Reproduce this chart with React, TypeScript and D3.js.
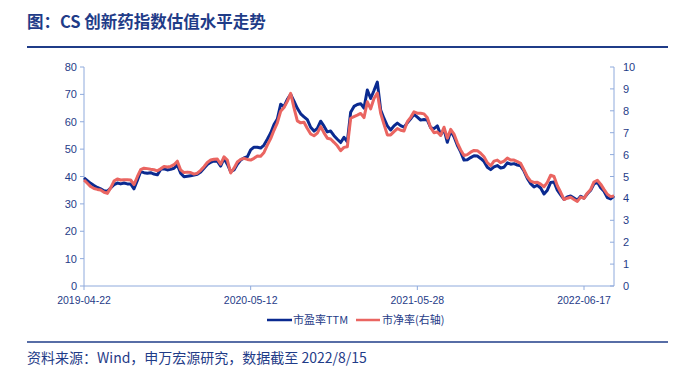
import React from "react";
import * as d3 from "d3";

const title = "图：CS 创新药指数估值水平走势";
const source = "资料来源：Wind，申万宏源研究，数据截至 2022/8/15";
const seriesNames = ["市盈率TTM", "市净率(右轴)"];

const xTickLabels = ["2019-04-22", "2020-05-12", "2021-05-28", "2022-06-17"];
const xTickIndex = [0, 50, 100, 150];
const leftTicks = [0, 10, 20, 30, 40, 50, 60, 70, 80];
const rightTicks = [0, 1, 2, 3, 4, 5, 6, 7, 8, 9, 10];

const pe = [
  39.5, 38.5, 37.5, 36.7, 36.0, 35.5, 34.8, 34.6, 35.8, 37.0,
  37.6, 37.3, 37.6, 37.3, 37.3, 35.5, 38.6, 41.8, 41.4, 41.2,
  41.4, 40.9, 40.6, 42.6, 42.8, 42.4, 42.6, 43.0, 44.2, 41.2,
  39.9, 40.1, 40.3, 40.5, 40.8, 41.6, 43.0, 44.4, 45.2, 45.7,
  45.6, 43.8, 46.6, 44.5, 41.8, 42.4, 44.5, 46.0, 46.8, 47.2,
  49.7, 50.7, 50.7,
  50.4, 51.5, 53.6, 55.9, 59.0, 61.0, 66.4, 65.5, 68.2, 70.0,
  67.5, 64.9, 62.9, 61.8, 60.8, 58.0, 56.6, 57.6, 60.2, 58.4,
  56.3, 56.6, 54.9, 53.6, 52.4, 54.3, 52.7, 63.5, 65.6, 66.3,
  66.6, 65.0, 71.6, 68.5, 71.4, 74.5, 64.3, 61.2, 58.5, 57.0,
  58.5, 59.5, 58.6, 58.0, 59.6, 61.1, 62.7, 61.7, 60.6, 60.8,
  60.6, 57.8, 57.5,
  58.5, 55.2, 57.3, 52.5, 56.6, 54.5, 51.4, 49.0, 46.0, 46.1,
  46.9, 47.6, 47.5, 46.6, 45.5, 43.4, 42.5, 43.5, 44.0, 43.1,
  43.4, 45.0, 44.5, 44.7, 44.2, 43.9, 42.0, 39.3, 37.4, 36.2,
  36.8, 35.8, 33.6, 35.0, 37.8, 38.0, 35.0, 33.3, 31.6, 32.5,
  32.9, 32.1, 31.3, 32.8, 32.1, 33.7, 35.0, 37.3, 38.0, 35.9,
  34.6, 32.3, 31.8, 32.9,
];

const pb = [
  4.84, 4.69, 4.54, 4.45, 4.41, 4.38, 4.28, 4.23, 4.48, 4.79,
  4.89, 4.84, 4.85, 4.85, 4.84, 4.63, 4.99, 5.31, 5.38, 5.36,
  5.33, 5.31, 5.26, 5.35, 5.46, 5.43, 5.46, 5.54, 5.70, 5.30,
  5.18, 5.20, 5.18, 5.11, 5.15, 5.28, 5.45, 5.64, 5.75, 5.79,
  5.80, 5.56, 5.90, 5.75, 5.16, 5.38, 5.66, 5.78, 5.83, 5.78,
  5.75, 5.83, 5.94,
  5.93, 6.10, 6.43, 6.73, 7.11, 7.45, 7.98, 8.15, 8.43, 8.80,
  8.13, 7.54, 7.45, 7.48, 7.19, 6.94, 6.86, 6.98, 7.28, 6.99,
  6.75, 6.71, 6.56, 6.40, 6.18, 6.33, 6.36, 7.66, 7.73, 7.80,
  7.88, 7.69, 8.41, 8.09, 8.56, 8.81, 7.89, 7.38, 6.90, 6.90,
  7.05, 7.19, 7.11, 7.08, 7.50, 7.70, 7.95, 7.89, 7.89, 7.86,
  7.68, 7.23, 7.00,
  7.03, 6.88, 7.25, 6.75, 7.15, 6.94, 6.54, 6.21, 5.96, 6.00,
  6.11, 6.19, 6.18, 6.06, 5.90, 5.63, 5.49, 5.70, 5.75, 5.63,
  5.70, 5.84, 5.75, 5.75, 5.68, 5.60, 5.30, 4.99, 4.79, 4.73,
  4.74, 4.65, 4.53, 4.73, 5.06, 5.00, 4.58, 4.28, 3.95, 4.01,
  4.05, 3.95, 3.86, 4.06, 4.00, 4.24, 4.41, 4.75, 4.83, 4.65,
  4.41, 4.19, 4.08, 4.11,
];

const W = 700;
const H = 373;
const plot = { left: 84, right: 614, top: 67, bottom: 286 };
const textBlue = "#1F3C88";
const axisColor = "#8FAADC";
const blue = "#0A2A90";
const red = "#EA6561";
const numFont = "'Liberation Sans', Arial, sans-serif";
const cjkFont = "'Noto Sans CJK SC', 'Noto Sans', sans-serif";

export default function App() {
  const x = d3.scaleLinear().domain([0, pe.length - 1]).range([plot.left, plot.right]);
  const yL = d3.scaleLinear().domain([0, 80]).range([plot.bottom, plot.top]);
  const yR = d3.scaleLinear().domain([0, 10]).range([plot.bottom, plot.top]);

  const linePE = d3.line<number>().x((_, i) => x(i)).y((d) => yL(d));
  const linePB = d3.line<number>().x((_, i) => x(i)).y((d) => yR(d));

  return (
    <svg
      width={W}
      height={H}
      viewBox={`0 0 ${W} ${H}`}
      style={{ position: "absolute", left: 0, top: 0, background: "#fff" }}
    >
      <text x={27} y={28} fontFamily={cjkFont} fontWeight={700} fontSize={16.5} fill={textBlue}>
        {title}
      </text>
      <line x1={27} x2={668} y1={47} y2={47} stroke={textBlue} strokeWidth={2} />

      {/* axes */}
      <line x1={plot.left} x2={plot.left} y1={plot.top} y2={plot.bottom} stroke={axisColor} strokeWidth={1} />
      <line x1={plot.right} x2={plot.right} y1={plot.top} y2={plot.bottom} stroke={axisColor} strokeWidth={1} />
      <line x1={plot.left} x2={plot.right} y1={plot.bottom} y2={plot.bottom} stroke={axisColor} strokeWidth={1} />

      {leftTicks.map((t) => (
        <g key={"l" + t}>
          <line x1={plot.left - 4} x2={plot.left} y1={yL(t)} y2={yL(t)} stroke={axisColor} />
          <text x={77} y={yL(t) + 4} textAnchor="end" fontFamily={numFont} fontSize={11} fill={textBlue}>
            {t}
          </text>
        </g>
      ))}
      {rightTicks.map((t) => (
        <g key={"r" + t}>
          <line x1={plot.right - 4} x2={plot.right} y1={yR(t)} y2={yR(t)} stroke={axisColor} />
          <text x={623} y={yR(t) + 4} textAnchor="start" fontFamily={numFont} fontSize={11} fill={textBlue}>
            {t}
          </text>
        </g>
      ))}
      {xTickIndex.map((t, i) => (
        <g key={"x" + t}>
          <line x1={x(t)} x2={x(t)} y1={plot.bottom} y2={plot.bottom + 4} stroke={axisColor} />
          <text x={x(t)} y={304} textAnchor="middle" fontFamily={numFont} fontSize={10.5} fill={textBlue}>
            {xTickLabels[i]}
          </text>
        </g>
      ))}

      <path d={linePE(pe) || ""} fill="none" stroke={blue} strokeWidth={3} strokeLinejoin="round" />
      <path d={linePB(pb) || ""} fill="none" stroke={red} strokeWidth={3} strokeLinejoin="round" />

      {/* legend */}
      <line x1={267} x2={292} y1={320} y2={320} stroke={blue} strokeWidth={2.5} />
      <text x={293} y={324} fontFamily={cjkFont} fontSize={11} fill={textBlue}>
        {seriesNames[0]}
      </text>
      <line x1={356} x2={380} y1={320} y2={320} stroke={red} strokeWidth={2.5} />
      <text x={382} y={324} fontFamily={cjkFont} fontSize={11} fill={textBlue}>
        {seriesNames[1]}
      </text>

      <line x1={27} x2={668} y1={342} y2={342} stroke={textBlue} strokeWidth={1.5} />
      <text x={27} y={363} fontFamily={cjkFont} fontSize={14} fill={textBlue}>
        {source}
      </text>
    </svg>
  );
}
